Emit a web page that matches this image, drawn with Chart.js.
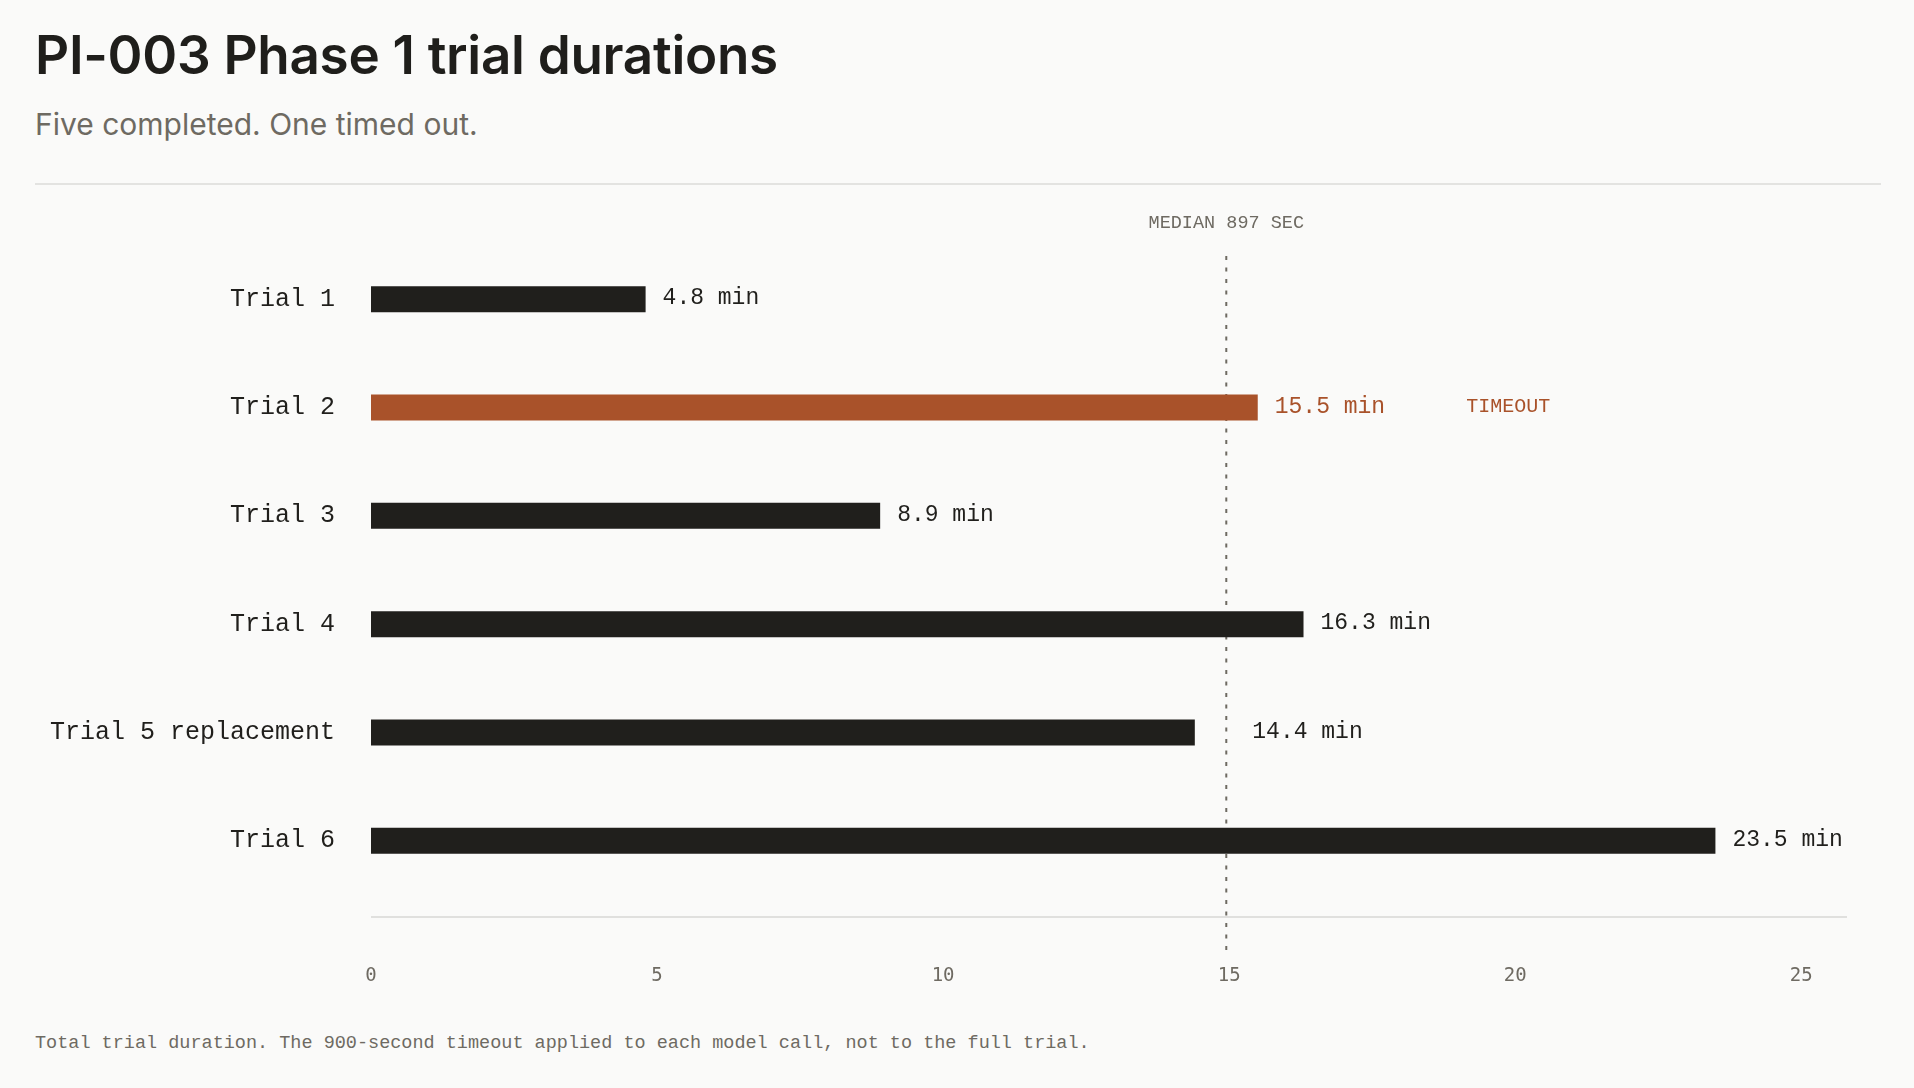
<!DOCTYPE html>
<html lang="en">
<head>
    <meta charset="UTF-8">
    <title>PI-003 Phase 1 trial durations</title>
    <script src="https://cdn.jsdelivr.net/npm/chart.js"></script>
    <style>
        body {
            margin: 0;
            width: 1914px;
            height: 1088px;
            background: #fafaf9;
            position: relative;
            overflow: hidden;
            font-family: Inter, "Noto Sans", sans-serif;
        }
        h1 {
            position: absolute;
            left: 35px;
            top: 23px;
            margin: 0;
            font-size: 53px;
            font-weight: 600;
            line-height: 64px;
            color: #1f1e1b;
            letter-spacing: -0.3px;
        }
        .subtitle {
            position: absolute;
            left: 35px;
            top: 106px;
            margin: 0;
            font-size: 30px;
            line-height: 36px;
            color: #6e6a62;
        }
        .rule {
            position: absolute;
            left: 35px;
            top: 183px;
            width: 1846px;
            height: 2px;
            background: #e3e3e1;
        }
        .chart-box {
            position: absolute;
            left: 0;
            top: 190px;
            width: 1914px;
            height: 830px;
        }
        .note {
            position: absolute;
            left: 35px;
            top: 1032px;
            margin: 0;
            font-family: "Liberation Mono", monospace;
            font-size: 18.5px;
            line-height: 24px;
            color: #6e6a62;
        }
    </style>
</head>
<body>
    <h1>PI-003 Phase 1 trial durations</h1>
    <p class="subtitle">Five completed. One timed out.</p>
    <div class="rule"></div>
    <div class="chart-box"><canvas id="durations"></canvas></div>
    <p class="note">Total trial duration. The 900-second timeout applied to each model call, not to the full trial.</p>

    <script>
        // data
        const trials = ['Trial 1', 'Trial 2', 'Trial 3', 'Trial 4', 'Trial 5 replacement', 'Trial 6'];
        const durationMin = [4.8, 15.5, 8.9, 16.3, 14.4, 23.5];
        const timedOut = [false, true, false, false, false, false];
        const medianSec = 897;
        const xTicks = [0, 5, 10, 15, 20, 25];
        const xMax = 25.8;

        const MONO = '"Liberation Mono", monospace';
        const TICK_FONT = '"DejaVu Sans Mono", monospace';
        const INK = '#201f1c';
        const RUST = '#a9522a';
        const MUTED = '#6e6a62';

        const overlay = {
            id: 'overlay',
            beforeDatasetsDraw(chart) {
                const ctx = chart.ctx;
                const x = chart.scales.x;
                const area = chart.chartArea;
                const mx = x.getPixelForValue(medianSec / 60);

                // baseline
                ctx.save();
                ctx.strokeStyle = '#e0e0de';
                ctx.lineWidth = 2;
                ctx.beginPath();
                ctx.moveTo(area.left, area.bottom + 22);
                ctx.lineTo(area.right, area.bottom + 22);
                ctx.stroke();

                // median marker
                ctx.strokeStyle = MUTED;
                ctx.lineWidth = 2;
                ctx.setLineDash([4, 7.5]);
                ctx.beginPath();
                ctx.moveTo(mx, area.top + 11);
                ctx.lineTo(mx, area.bottom + 55);
                ctx.stroke();
                ctx.setLineDash([]);

                ctx.fillStyle = MUTED;
                ctx.font = '18.5px ' + MONO;
                ctx.textAlign = 'center';
                ctx.textBaseline = 'middle';
                ctx.fillText('MEDIAN ' + medianSec + ' SEC', mx, area.top - 22);
                ctx.restore();
            },
            afterDatasetsDraw(chart) {
                const ctx = chart.ctx;
                const mx = chart.scales.x.getPixelForValue(medianSec / 60);
                const bars = chart.getDatasetMeta(0).data;
                ctx.save();
                ctx.textBaseline = 'middle';
                ctx.textAlign = 'left';
                bars.forEach((bar, i) => {
                    let lx = bar.x + 17;
                    // keep labels clear of the median line
                    if (bar.x < mx && lx > mx - 30) lx = mx + 26;
                    const text = durationMin[i].toFixed(1) + ' min';
                    ctx.font = '23px ' + MONO;
                    ctx.fillStyle = timedOut[i] ? RUST : INK;
                    ctx.fillText(text, lx, bar.y - 1);
                    if (timedOut[i]) {
                        const w = ctx.measureText(text).width;
                        ctx.font = '20px ' + MONO;
                        ctx.fillText('TIMEOUT', lx + w + 81, bar.y - 1);
                    }
                });
                ctx.restore();
            }
        };

        new Chart(document.getElementById('durations'), {
            type: 'bar',
            data: {
                labels: trials,
                datasets: [{
                    data: durationMin,
                    backgroundColor: timedOut.map(t => t ? RUST : INK),
                    borderWidth: 0,
                    categoryPercentage: 1,
                    barPercentage: 0.24
                }]
            },
            options: {
                indexAxis: 'y',
                responsive: true,
                maintainAspectRatio: false,
                animation: false,
                layout: { padding: { top: 55, right: 67, left: 0, bottom: 0 } },
                plugins: {
                    legend: { display: false },
                    tooltip: { enabled: false }
                },
                scales: {
                    x: {
                        min: 0,
                        max: xMax,
                        border: { display: false },
                        grid: { display: false, drawTicks: false },
                        afterBuildTicks(scale) {
                            scale.ticks = xTicks.map(v => ({ value: v }));
                        },
                        ticks: {
                            padding: 70,
                            color: MUTED,
                            font: { family: TICK_FONT, size: 19 }
                        },
                        afterFit(scale) { scale.height = 125; }
                    },
                    y: {
                        border: { display: false },
                        grid: { display: false, drawTicks: false },
                        ticks: {
                            padding: 36,
                            color: INK,
                            font: { family: MONO, size: 25 }
                        },
                        afterFit(scale) { scale.width = 371; }
                    }
                }
            },
            plugins: [overlay]
        });
    </script>
</body>
</html>
